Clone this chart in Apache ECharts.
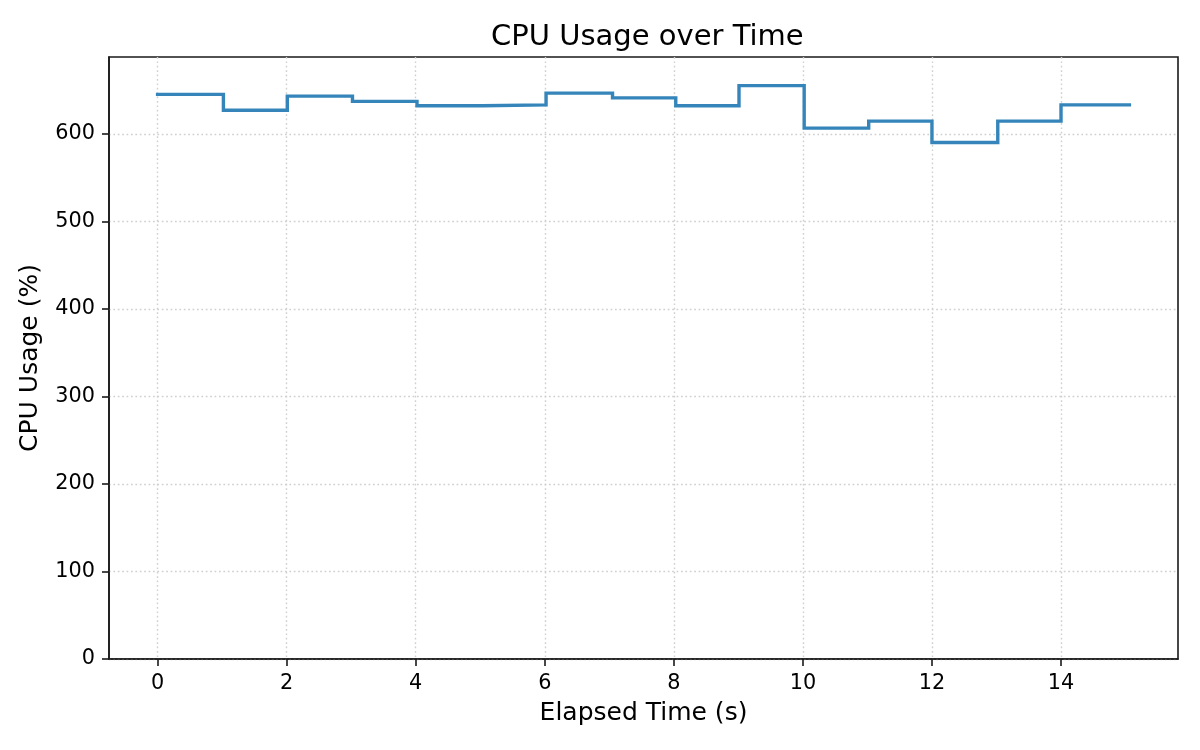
<!DOCTYPE html>
<html>
<head>
<meta charset="utf-8">
<script src="https://cdn.jsdelivr.net/npm/echarts@6/dist/echarts.min.js"></script>
<style>
html,body{margin:0;padding:0;background:#fff;}
#chart{width:1200px;height:750px;}
</style>
</head>
<body>
<div id="chart"></div>
<script>
// Data
const elapsedTimes = [0, 1.02, 2.01, 3.02, 4.02, 5.03, 6.02, 7.05, 8.03, 9.01, 10.02, 11.02, 12.0, 13.02, 14.0, 15.06];
const cpuUsage = [645, 627, 643, 637, 632, 633, 646.5, 641, 632, 655, 606.5, 614.5, 590, 614.5, 633, 633];
const xTicks = [0, 2, 4, 6, 8, 10, 12, 14];
const yTicks = [0, 100, 200, 300, 400, 500, 600];

const FONT = 'DejaVu Sans';
const tMax = elapsedTimes[elapsedTimes.length - 1];
const yMaxData = Math.max.apply(null, cpuUsage);

const chart = echarts.init(document.getElementById('chart'), null, {renderer: 'canvas'});
const gridLine = {show: true, lineStyle: {color: '#cfcfcf', width: 1.4, type: [1.7, 2.7]}};
chart.setOption({
  animation: false,
  backgroundColor: '#ffffff',
  title: {
    text: 'CPU Usage over Time',
    left: 486,
    top: 18,
    textStyle: {fontFamily: FONT, fontSize: 29, fontWeight: 'normal', color: '#000'}
  },
  grid: {
    left: 109, right: 22, top: 57, bottom: 91,
    show: true, borderColor: '#1a1a1a', borderWidth: 1.6, backgroundColor: 'transparent'
  },
  xAxis: {
    type: 'value',
    min: -0.05 * tMax,
    max: 1.05 * tMax,
    name: 'Elapsed Time (s)',
    nameLocation: 'middle',
    nameGap: 42,
    nameTextStyle: {fontFamily: FONT, fontSize: 25, color: '#000'},
    axisLine: {show: true, onZero: false, lineStyle: {color: '#1a1a1a', width: 1.6}},
    axisTick: {show: true, inside: false, customValues: xTicks, length: 7, lineStyle: {color: '#1a1a1a', width: 1.6}},
    axisLabel: {customValues: xTicks, margin: 14, fontFamily: FONT, fontSize: 20.8, color: '#000'},
    splitLine: gridLine
  },
  yAxis: {
    type: 'value',
    min: 0,
    max: 1.05 * yMaxData,
    name: 'CPU Usage (%)',
    nameLocation: 'middle',
    nameGap: 66,
    nameTextStyle: {fontFamily: FONT, fontSize: 25, color: '#000'},
    axisLine: {show: true, onZero: false, lineStyle: {color: '#1a1a1a', width: 1.6}},
    axisTick: {show: true, inside: false, customValues: yTicks, length: 7, lineStyle: {color: '#1a1a1a', width: 1.6}},
    axisLabel: {customValues: yTicks, margin: 14, fontFamily: FONT, fontSize: 20.8, color: '#000'},
    splitLine: gridLine
  },
  series: [{
    type: 'line',
    step: 'end',
    showSymbol: false,
    data: elapsedTimes.map((t, i) => [t, cpuUsage[i]]),
    lineStyle: {color: '#3585bb', width: 3.4, cap: 'square', join: 'miter'}
  }]
});
</script>
</body>
</html>
